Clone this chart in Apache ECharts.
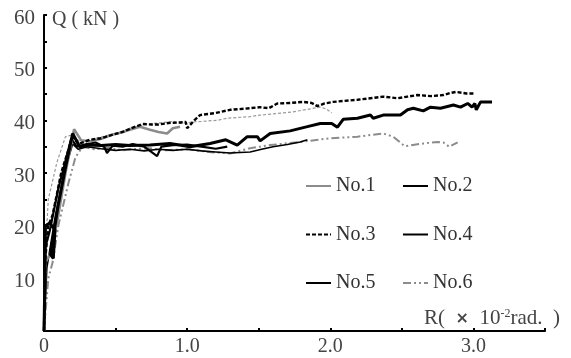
<!DOCTYPE html>
<html>
<head>
<meta charset="utf-8">
<script src="https://cdn.jsdelivr.net/npm/echarts@6/dist/echarts.min.js"></script>
<style>
html,body{margin:0;padding:0;background:#fff;}
#c{width:571px;height:358px;}
</style>
</head>
<body>
<div id="c"></div>
<script>
// ---- data (R in 10^-2 rad, Q in kN) ----
const xTicks = [0, 1.0, 2.0, 3.0];
const yTicks = [10, 20, 30, 40, 50, 60];

const r1 = [0, 0.01, 0.05, 0.10, 0.15, 0.21, 0.26, 0.32, 0.40, 0.47, 0.55, 0.60, 0.67, 0.74, 0.80, 0.86, 0.90, 0.95];
const q1 = [0, 13, 15, 22, 30, 38.3, 36.2, 36.0, 36.5, 37.2, 37.8, 38.2, 38.8, 38.2, 37.8, 37.5, 38.5, 38.8];

const r2 = [0, 0.005, 0.01, 0.04, 0.077, 0.065, 0.045, 0.10, 0.15, 0.20, 0.25, 0.30, 0.40, 0.50, 0.60, 0.74, 0.88, 1.02, 1.16, 1.27, 1.35, 1.42, 1.49, 1.51, 1.58, 1.72, 1.84, 1.93, 2.01, 2.05, 2.09, 2.19, 2.28, 2.30, 2.37, 2.49, 2.54, 2.58, 2.65, 2.70, 2.77, 2.86, 2.91, 2.96, 2.99, 3.01, 3.02, 3.05, 3.13];
const q2 = [0, 8, 20, 20.5, 19.2, 13.8, 14.5, 24, 31, 37.5, 35, 35.3, 35.2, 35.4, 35.2, 35.3, 35.6, 35.0, 35.6, 36.3, 35.3, 36.9, 36.9, 36.1, 37.5, 38.0, 38.8, 39.4, 39.4, 38.7, 40.2, 40.4, 41.0, 40.4, 41.0, 41.0, 42.0, 42.3, 41.8, 42.5, 42.3, 42.9, 42.5, 43.2, 42.5, 43.2, 42.0, 43.5, 43.5];

const r3 = [0, 0.01, 0.03, 0.06, 0.12, 0.20, 0.24, 0.32, 0.40, 0.47, 0.55, 0.62, 0.69, 0.75, 0.80, 0.87, 0.95, 0.99, 1.00, 1.05, 1.09, 1.20, 1.30, 1.40, 1.51, 1.57, 1.63, 1.72, 1.81, 1.87, 1.91, 1.96, 2.02, 2.10, 2.19, 2.28, 2.37, 2.47, 2.54, 2.61, 2.70, 2.79, 2.84, 2.88, 2.95, 3.01];
const q3 = [0, 14, 20, 22, 30, 37.0, 35.5, 36.3, 36.6, 37.2, 37.8, 38.6, 39.3, 39.2, 39.2, 39.5, 39.6, 39.7, 38.5, 40.0, 41.0, 41.4, 42.0, 42.2, 42.5, 42.3, 43.2, 43.3, 43.5, 43.3, 42.7, 43.2, 43.5, 43.7, 43.9, 44.2, 44.5, 44.2, 44.5, 44.8, 44.6, 44.8, 45.2, 45.4, 45.1, 45.1];

const r4 = [0, 0.01, 0.04, 0.10, 0.19, 0.23, 0.30, 0.36, 0.42, 0.44, 0.48, 0.55, 0.62, 0.70, 0.79, 0.82, 0.90, 1.00, 1.10, 1.20, 1.28];
const q4 = [0, 16, 19, 27, 36.5, 35.0, 35.5, 35.8, 35.0, 33.8, 35.2, 35.0, 35.5, 35.0, 33.2, 35.0, 35.3, 35.4, 35.0, 34.6, 35.0];

const r5 = [0, 0.02, 0.08, 0.14, 0.20, 0.24, 0.30, 0.40, 0.50, 0.60, 0.70, 0.80, 0.90, 1.00, 1.10, 1.20, 1.30, 1.44, 1.52, 1.60, 1.70, 1.79, 1.84];
const q5 = [0, 12, 22, 30, 35.5, 34.5, 35.0, 34.6, 34.3, 34.5, 34.2, 34.5, 34.3, 34.5, 34.2, 34.0, 33.8, 34.0, 34.5, 35.0, 35.4, 35.9, 36.3];

const r6 = [0, 0.03, 0.06, 0.10, 0.17, 0.22, 0.27, 0.35, 0.45, 0.55, 0.65, 0.74, 0.85, 1.00, 1.15, 1.30, 1.44, 1.58, 1.79, 2.00, 2.19, 2.37, 2.44, 2.52, 2.65, 2.75, 2.79, 2.83, 2.89];
const q6 = [0, 10, 13, 20, 28, 33, 35, 34.5, 34.8, 34.3, 34.6, 34.7, 34.3, 34.5, 34.0, 33.7, 34.7, 35.3, 35.9, 36.6, 36.9, 37.5, 36.9, 35.1, 35.6, 35.9, 35.8, 35.0, 35.8];

// thin grey dashed curve drawn without a legend entry
const r7 = [0, 0.01, 0.03, 0.09, 0.15, 0.19, 0.25, 0.35, 0.50, 0.60, 0.70, 0.80, 0.90, 0.96, 1.04, 1.10, 1.21, 1.28, 1.44, 1.51, 1.67, 1.74, 1.80, 1.93, 1.97, 2.01];
const q7 = [0, 15, 25, 32, 36.9, 37.2, 36.0, 36.5, 37.5, 38.5, 39.2, 39.5, 39.8, 39.4, 39.7, 39.8, 40.0, 40.4, 40.7, 41.0, 41.4, 41.6, 41.9, 42.5, 42.2, 41.4];

const names = ['No.1', 'No.2', 'No.3', 'No.4', 'No.5', 'No.6'];

function zip(r, q) { return r.map((v, i) => [v, q[i]]); }

const serif = '"Liberation Serif", "Times New Roman", serif';
const GREY = '#8c8c8c';

function line(name, r, q, color, width, dash, z) {
  return {
    name: name, type: 'line', data: zip(r, q), symbol: 'circle', showSymbol: false, z: z || 2,
    lineStyle: { color: color, width: width, type: dash || 'solid' },
    itemStyle: { color: color },
    emphasis: { disabled: true },
    animation: false
  };
}

const legendCommon = {
  orient: 'vertical', top: 176, itemWidth: 25, itemHeight: 20, itemGap: 28.5, padding: 0,
  itemStyle: { opacity: 0 },
  textStyle: { fontFamily: serif, fontSize: 20, color: '#333', lineHeight: 20 }
};

const option = {
  backgroundColor: '#fff',
  animation: false,
  grid: { left: 44, right: 26, top: 15, bottom: 27 },
  xAxis: {
    type: 'value', min: 0, max: 3.5, interval: 0.5,
    name: 'R(  {x|×}  10{s|-2}rad.  )', nameLocation: 'end', nameGap: 15,
    nameTextStyle: {
      fontFamily: serif, fontSize: 21, color: '#444', align: 'right', verticalAlign: 'bottom',
      padding: [0, 0, 2, 0],
      rich: {
        x: { fontFamily: '"DejaVu Sans", sans-serif', fontSize: 16, fontWeight: 'bold', color: '#444' },
        s: { fontFamily: serif, fontSize: 12, color: '#444', verticalAlign: 'top', padding: [0, 0, 8, 0] }
      }
    },
    axisLine: { lineStyle: { color: '#000', width: 2 } },
    axisTick: { inside: true, length: 3, lineStyle: { color: '#000', width: 2 } },
    splitLine: { show: false },
    axisLabel: {
      margin: 6, fontFamily: serif, fontSize: 20, color: '#444',
      formatter: function (v) {
        if (xTicks.indexOf(v) < 0) return '';
        return v === 0 ? '0' : v.toFixed(1);
      }
    }
  },
  yAxis: {
    type: 'value', min: 0, max: 60, interval: 5,
    name: 'Q ( kN )', nameLocation: 'end', nameGap: -5,
    nameTextStyle: { fontFamily: serif, fontSize: 20, color: '#444', align: 'left', verticalAlign: 'middle', padding: [0, 0, 0, 8] },
    axisLine: { lineStyle: { color: '#000', width: 2 } },
    axisTick: { inside: true, length: 3, lineStyle: { color: '#000', width: 2 } },
    splitLine: { show: false },
    axisLabel: {
      margin: 9, color: '#444',
      formatter: function (v) { return yTicks.indexOf(v) >= 0 ? '{a|' + v + '}' : ''; },
      rich: { a: { fontFamily: serif, fontSize: 21, color: '#444', padding: [6, 0, 0, 0] } }
    }
  },
  legend: [
    Object.assign({ data: ['No.1', 'No.3', 'No.5'], left: 305 }, legendCommon),
    Object.assign({ data: ['No.2', 'No.4', 'No.6'], left: 402 }, legendCommon)
  ],
  series: [
    line('curve', r7, q7, '#9a9a9a', 1.2, [3, 2], 1),
    line(names[5], r6, q6, GREY, 2, [8, 3, 2, 3, 2, 3], 2),
    line(names[4], r5, q5, '#000', 1.6, 'solid', 3),
    line(names[3], r4, q4, '#000', 2.2, 'solid', 3),
    line(names[0], r1, q1, GREY, 2.6, 'solid', 4),
    line(names[2], r3, q3, '#000', 2.4, [4, 2], 5),
    line(names[1], r2, q2, '#000', 3, 'solid', 6)
  ]
};

const chart = echarts.init(document.getElementById('c'), null, { renderer: 'canvas' });
chart.setOption(option);
</script>
</body>
</html>
